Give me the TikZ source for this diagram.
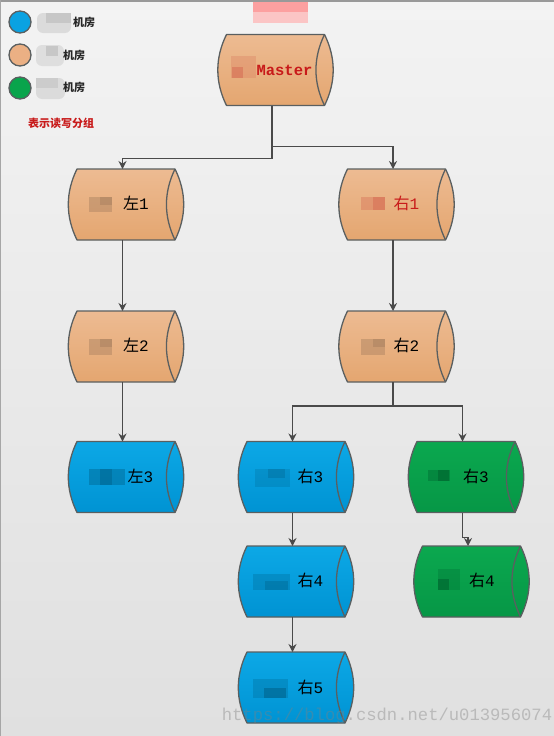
\documentclass[tikz,border=0pt]{standalone}
\usepackage{fontspec}
\newfontfamily\cjk{Noto Sans CJK SC}
\newfontfamily\monof{Liberation Mono}
\usetikzlibrary{arrows.meta}
\definecolor{linegray}{HTML}{4A4A4A}
\definecolor{outline}{HTML}{5A5F60}
\definecolor{redtxt}{HTML}{C81A1A}
\definecolor{orTop}{HTML}{EDBB92}
\definecolor{orBot}{HTML}{E4A670}
\definecolor{blTop}{HTML}{0CA8E6}
\definecolor{blBot}{HTML}{0093D3}
\definecolor{grTop}{HTML}{0BA84F}
\definecolor{grBot}{HTML}{069746}
\definecolor{bgtop}{HTML}{F3F3F3}
\definecolor{bgbot}{HTML}{E0E0E0}
\definecolor{legA}{HTML}{0AA2E2}
\definecolor{legB}{HTML}{EBB084}
\definecolor{legC}{HTML}{09A44C}
\definecolor{mosO}{HTML}{A8805F}
\definecolor{mosR}{HTML}{D9765A}
\definecolor{mosB}{HTML}{00658F}
\definecolor{mosG}{HTML}{006B32}
\tikzset{
  x=1pt,y=-1pt,
  orangefill/.style={top color=orTop,bottom color=orBot},
  bluefill/.style={top color=blTop,bottom color=blBot},
  greenfill/.style={top color=grTop,bottom color=grBot},
  cylline/.style={draw=outline,line width=1.3pt,line join=round},
  anchorbox/.style={minimum width=115pt,minimum height=71pt,inner sep=0pt,outer sep=0pt},
  conn/.style={draw=linegray,line width=1.1pt,-{Stealth[length=8pt,width=8pt]}},
  lbl/.style={inner sep=0pt,font=\fontsize{16}{16}\selectfont},
  legendtxt/.style={inner sep=0pt,font=\cjk\bfseries\fontsize{11}{11}\selectfont,text=black!85},
  legdot/.style={circle,draw=outline,line width=1.3pt,minimum size=22pt,inner sep=0pt},
}
% name, arrow x, centre y, fill style
\newcommand\cylshape[4]{%
  \begin{scope}[shift={(#2+3.5,#3)}]
    \path[#4,cylline] (-49,-35.5) -- (49,-35.5)
      .. controls (60.6,-12) and (60.6,12) .. (49,35.5)
      -- (-49,35.5)
      .. controls (-60.6,12) and (-60.6,-12) .. (-49,-35.5) -- cycle;
    \draw[cylline] (49,-35.5) .. controls (37.6,-12) and (37.6,12) .. (49,35.5);
  \end{scope}
  \node[anchorbox] (#1) at (#2,#3) {};
}
\begin{document}
\begin{tikzpicture}
\useasboundingbox (0,0) rectangle (554,736);
\fill[top color=bgtop,bottom color=bgbot] (0,0) rectangle (554,736);
\fill[gray!80] (0,0) rectangle (554,2);
\fill[gray!70] (0,0) rectangle (1.2,736);

% legend
\node[legdot,fill=legA] (lega) at (20,22) {};
\node[legdot,fill=legB] (legb) at (20,55) {};
\node[legdot,fill=legC] (legc) at (20,88) {};
\fill[black!14,rounded corners=6pt] (37,13) rectangle (71,33);
\fill[black!22] (46,13) rectangle (71,23);
\fill[black!13,rounded corners=6pt] (36,45) rectangle (64,66);
\fill[black!22] (46,46) rectangle (58,56);
\fill[black!14,rounded corners=6pt] (36,78) rectangle (65,99);
\fill[black!20] (36,78) rectangle (58,88);
\node[legendtxt] (lta) at (84,22) {机房};
\node[legendtxt] (ltb) at (74,55) {机房};
\node[legendtxt] (ltc) at (74,87) {机房};
\node[inner sep=0pt,font=\cjk\bfseries\fontsize{11}{11}\selectfont,text=redtxt] (legnote) at (61,123) {表示读写分组};

% top mosaic
\fill[red!45,opacity=.8] (253,2) rectangle (308,12);
\fill[red!30,opacity=.7] (253,12) rectangle (308,23);

% cylinders
\cylshape{master}{272}{70}{orangefill}
\cylshape{la}{122.5}{204.5}{orangefill}
\cylshape{ra}{393}{204.5}{orangefill}
\cylshape{lb}{122.5}{346.5}{orangefill}
\cylshape{rb}{393}{346.5}{orangefill}
\cylshape{lc}{122.5}{477}{bluefill}
\cylshape{rc}{292.5}{477}{bluefill}
\cylshape{gc}{462.5}{477}{greenfill}
\cylshape{rd}{292.5}{581.5}{bluefill}
\cylshape{gd}{468}{581.5}{greenfill}
\cylshape{re}{292.5}{687.5}{bluefill}

% mosaics
\fill[mosR,opacity=.3] (231,56) rectangle (256,78);
\fill[mosR,opacity=.7] (232,67) rectangle (243,78);
\fill[mosO,opacity=.45] (89,197) rectangle (112,212);
\fill[mosO,opacity=.5] (100,197) rectangle (112,205);
\fill[mosR,opacity=.45] (361,197) rectangle (385,210);
\fill[mosR,opacity=.7] (373,197) rectangle (385,210);
\fill[mosO,opacity=.45] (89,339) rectangle (112,355);
\fill[mosO,opacity=.5] (100,339) rectangle (112,347);
\fill[mosO,opacity=.45] (361,339) rectangle (385,355);
\fill[mosO,opacity=.5] (373,339) rectangle (385,347);
\fill[mosB,opacity=.45] (89,469) rectangle (125,485);
\fill[mosB,opacity=.5] (100,469) rectangle (112,485);
\fill[mosB,opacity=.25] (255,469) rectangle (290,487);
\fill[mosB,opacity=.35] (268,469) rectangle (285,478);
\fill[mosG,opacity=.45] (428,470) rectangle (450,481);
\fill[mosG,opacity=.7] (438,470) rectangle (449,481);
\fill[mosG,opacity=.3] (438,569) rectangle (460,590);
\fill[mosG,opacity=.7] (438,579) rectangle (449,590);
\fill[mosB,opacity=.3] (253,574) rectangle (290,590);
\fill[mosB,opacity=.4] (265,581) rectangle (288,590);
\fill[mosB,opacity=.3] (253,679) rectangle (288,698);
\fill[mosB,opacity=.6] (264,688) rectangle (286,698);

% labels
\node[inner sep=0pt,font=\monof\bfseries\fontsize{15.5}{15.5}\selectfont,text=redtxt] (tm) at (284.5,70.5) {Master};
\node[lbl] (tla) at (136,203.5) {{\cjk 左}{\monof 1}};
\node[lbl,text=redtxt] (tra) at (406.5,203.5) {{\cjk 右}{\monof 1}};
\node[lbl] (tlb) at (136,345.5) {{\cjk 左}{\monof 2}};
\node[lbl] (trb) at (406.5,345.5) {{\cjk 右}{\monof 2}};
\node[lbl] (tlc) at (140.5,476.5) {{\cjk 左}{\monof 3}};
\node[lbl] (trc) at (310.5,476.5) {{\cjk 右}{\monof 3}};
\node[lbl] (tgc) at (476,476.5) {{\cjk 右}{\monof 3}};
\node[lbl] (trd) at (310.5,580.5) {{\cjk 右}{\monof 4}};
\node[lbl] (tgd) at (482,580.5) {{\cjk 右}{\monof 4}};
\node[lbl] (tre) at (310.5,687.5) {{\cjk 右}{\monof 5}};

% connectors
\draw[conn] (master.south) -- ++(0,53) -| (la.north);
\draw[conn] (master.south) -- ++(0,41) -| (ra.north);
\draw[conn] (la.south) -- (lb.north);
\draw[conn] (lb.south) -- (lc.north);
\draw[conn] (ra.south) -- (rb.north);
\draw[conn] (rb.south) -- ++(0,24) -| (rc.north);
\draw[conn] (rb.south) -- ++(0,24) -| (gc.north);
\draw[conn] (rc.south) -- (rd.north);
\draw[conn] (rd.south) -- (re.north);
\draw[conn] (gc.south) -- ++(0,25) -| (gd.north);

% watermark
\node[inner sep=0pt,font=\monof\fontsize{17.2}{17.2}\selectfont,text=gray,opacity=.4] (wm) at (387,716) {https://blog.csdn.net/u013956074};
\end{tikzpicture}
\end{document}
